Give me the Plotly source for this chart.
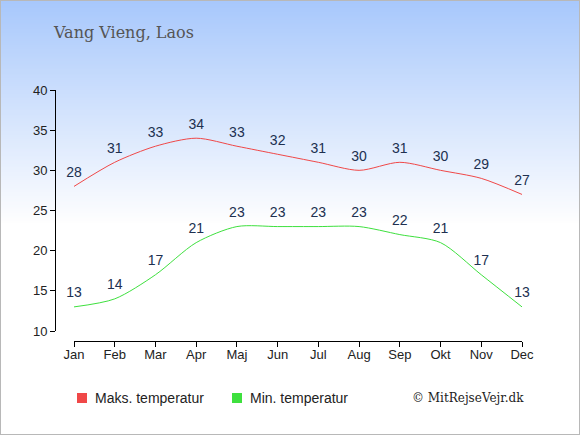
import plotly.graph_objects as go

months = ['Jan', 'Feb', 'Mar', 'Apr', 'Maj', 'Jun', 'Jul', 'Aug', 'Sep', 'Okt', 'Nov', 'Dec']
max_temp = [28, 31, 33, 34, 33, 32, 31, 30, 31, 30, 29, 27]
min_temp = [13, 14, 17, 21, 23, 23, 23, 23, 22, 21, 17, 13]
y_ticks = [10, 15, 20, 25, 30, 35, 40]
legend_names = ['Maks. temperatur', 'Min. temperatur']

W, H = 580, 435
red = '#f04848'
green = '#3ee03e'
label_color = '#203050'

fig = go.Figure()

# lines with value labels (invisible markers push the labels up a bit)
for vals, col in [(max_temp, red), (min_temp, green)]:
    fig.add_trace(go.Scatter(x=months, y=vals, mode='lines+markers+text', text=[str(v) for v in vals],
                             textposition='top center',
                             textfont=dict(size=14, color=label_color, family='Arial'),
                             marker=dict(size=8, opacity=0),
                             line=dict(color=col, width=1, shape='spline', smoothing=0.8),
                             showlegend=False, cliponaxis=False, hoverinfo='skip'))

# gradient background
shapes = []
steps = 110
grad_end = 225
for i in range(steps):
    y0 = grad_end * i / steps
    y1 = grad_end * (i + 1) / steps
    t = i / (steps - 1)
    r = int(168 + (255 - 168) * t)
    g = int(200 + (255 - 200) * t)
    b = int(252 + (255 - 252) * t)
    shapes.append(dict(type='rect', xref='paper', yref='paper', x0=0, x1=1,
                       y0=1 - y1 / H - 0.002, y1=1 - y0 / H, line=dict(width=0),
                       fillcolor=f'rgb({r},{g},{b})', layer='below'))
shapes.append(dict(type='rect', xref='paper', yref='paper', x0=0, x1=1, y0=0, y1=1,
                   line=dict(color='#b8b8b8', width=2), fillcolor='rgba(0,0,0,0)'))

# legend drawn by hand: square + label
annotations = []
leg_y = (H - 398) / H
for name, col, sx in zip(legend_names, [red, green], [77, 232]):
    shapes.append(dict(type='rect', xref='paper', yref='paper',
                       x0=sx / W, x1=(sx + 10) / W, y0=leg_y - 5 / H, y1=leg_y + 5 / H,
                       line=dict(width=0), fillcolor=col))
    annotations.append(dict(text=name, x=(sx + 16) / W, y=leg_y, xref='paper', yref='paper',
                            xanchor='left', yanchor='middle', showarrow=False,
                            font=dict(family='Arial', size=14, color='#222')))

annotations += [
    dict(text='Vang Vieng, Laos', x=51 / W, y=(H - 32) / H, xref='paper', yref='paper',
         xanchor='left', yanchor='middle', showarrow=False,
         font=dict(family='DejaVu Serif', size=16, color='#555555')),
    dict(text='© MitRejseVejr.dk', x=526 / W, y=leg_y, xref='paper', yref='paper',
         xanchor='right', yanchor='middle', showarrow=False,
         font=dict(family='DejaVu Serif', size=12, color='#222')),
]

fig.update_layout(
    width=W, height=H,
    margin=dict(l=0, r=0, t=0, b=0, autoexpand=False),
    paper_bgcolor='white', plot_bgcolor='rgba(0,0,0,0)',
    font=dict(family='Arial', size=13, color='#222'),
    shapes=shapes,
    showlegend=False,
    xaxis=dict(domain=[74 / W, 522 / W], anchor='free', position=(H - 341) / H,
               range=[0, 11], showgrid=False, zeroline=False, showline=True,
               linecolor='black', linewidth=1, ticks='outside', ticklen=5,
               tickcolor='black', tickfont=dict(size=13, color='#222'),
               ticklabelstandoff=-4),
    yaxis=dict(domain=[(H - 331) / H, (H - 90) / H], anchor='free', position=55 / W,
               range=[10, 40], tickvals=y_ticks, showgrid=False, zeroline=False,
               showline=True, linecolor='black', linewidth=1, ticks='outside', ticklen=5,
               tickcolor='black', tickfont=dict(size=13, color='#222')),
    annotations=annotations,
)

fig.write_html('out.html', config={'displayModeBar': False},
               post_script="document.body.style.margin='0';")
